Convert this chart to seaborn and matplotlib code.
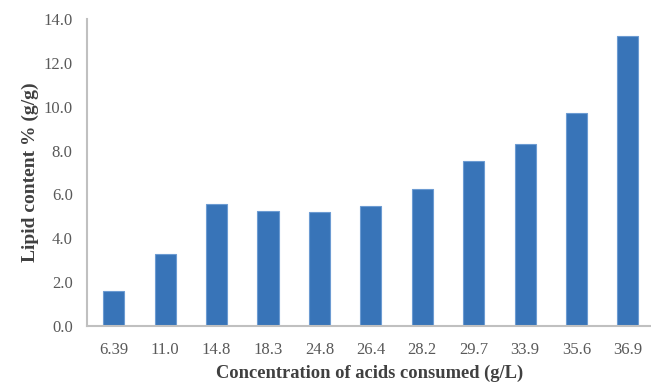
import matplotlib
matplotlib.use("Agg")
import matplotlib.pyplot as plt
import seaborn as sns
import pandas as pd

categories = ["6.39", "11.0", "14.8", "18.3", "24.8", "26.4", "28.2", "29.7", "33.9", "35.6", "36.9"]
lipid = [1.58, 3.28, 5.56, 5.24, 5.19, 5.47, 6.26, 7.54, 8.32, 9.70, 13.22]
yticks = [0, 2, 4, 6, 8, 10, 12, 14]

sns.set_theme(style="white")
plt.rcParams['font.family'] = ['Liberation Serif', 'DejaVu Serif']

df = pd.DataFrame({"conc": categories, "lipid": lipid})

fig = plt.figure(figsize=(6.51, 3.82), dpi=100)
ax = fig.add_axes([87.3 / 651, 56.3 / 382, 1 - 87.3 / 651, (325.7 - 19.3) / 382])

sns.barplot(data=df, x="conc", y="lipid", order=categories, color="#3874B8",
            width=0.41, saturation=1, edgecolor="#6C9BD2", linewidth=0.8, ax=ax)

ax.set_xlim(-0.515, 10.45)
ax.set_ylim(0, 14)
ax.set_yticks(yticks)
ax.set_yticklabels([f"{v:.1f}" for v in yticks])
ax.tick_params(axis="both", length=0, labelsize=12, colors="#595959")
ax.tick_params(axis="y", pad=10.5)
ax.tick_params(axis="x", pad=11.5)

for s in ["top", "right"]:
    ax.spines[s].set_visible(False)
for s in ["left", "bottom"]:
    ax.spines[s].set_color("#C0C0C0")
    ax.spines[s].set_linewidth(1.5)

ax.set_xlabel("Concentration of acids consumed (g/L)", fontsize=13.3, fontweight="bold",
              color="#404040", labelpad=5)
ax.set_ylabel("Lipid content % (g/g)", fontsize=14, fontweight="bold",
              color="#404040", labelpad=3.5)

fig.savefig("out.png", dpi=100)
